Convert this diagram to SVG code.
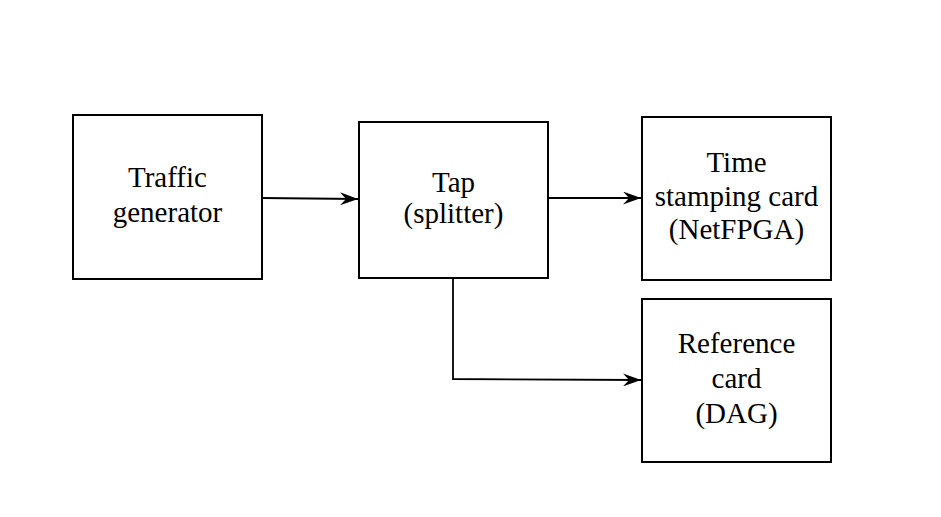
<svg xmlns="http://www.w3.org/2000/svg" width="941" height="517" viewBox="0 0 941 517">
<style>
.box{fill:#fff;stroke:#000;stroke-width:2}
.lbl{font-family:"Liberation Serif","Times New Roman",serif;font-size:29px;fill:#000;text-anchor:middle}
.conn{fill:none;stroke:#000;stroke-width:1.8}
</style>
<defs>
<marker id="arr" viewBox="0 0 18 13" refX="18" refY="6.5" markerWidth="18" markerHeight="13" markerUnits="userSpaceOnUse" orient="auto">
<path d="M0,0 L18,6.5 L0,13 L6,6.5 Z" fill="#000"/>
</marker>
</defs>
<rect width="941" height="517" fill="#fff"/>
<g id="traffic-generator">
<rect class="box" x="73" y="115" width="189" height="164"/>
<text class="lbl" x="167.5" y="187">Traffic</text>
<text class="lbl" x="167.5" y="222">generator</text>
</g>
<g id="tap">
<rect class="box" x="359" y="122" width="189" height="156"/>
<text class="lbl" x="453.5" y="192">Tap</text>
<text class="lbl" x="453.5" y="223">(splitter)</text>
</g>
<g id="time-stamping-card">
<rect class="box" x="642" y="117" width="189" height="163"/>
<text class="lbl" x="736.5" y="172">Time</text>
<text class="lbl" x="736.5" y="206">stamping card</text>
<text class="lbl" x="736.5" y="239">(NetFPGA)</text>
</g>
<g id="reference-card">
<rect class="box" x="642" y="299" width="189" height="163"/>
<text class="lbl" x="736.5" y="353">Reference</text>
<text class="lbl" x="736.5" y="388">card</text>
<text class="lbl" x="736.5" y="423">(DAG)</text>
</g>
<g id="connectors">
<path class="conn" d="M262,198 L358,199" marker-end="url(#arr)"/>
<path class="conn" d="M548,198 L641,198" marker-end="url(#arr)"/>
<path class="conn" d="M453,278 L453,379 L641,380" marker-end="url(#arr)"/>
</g>
</svg>
